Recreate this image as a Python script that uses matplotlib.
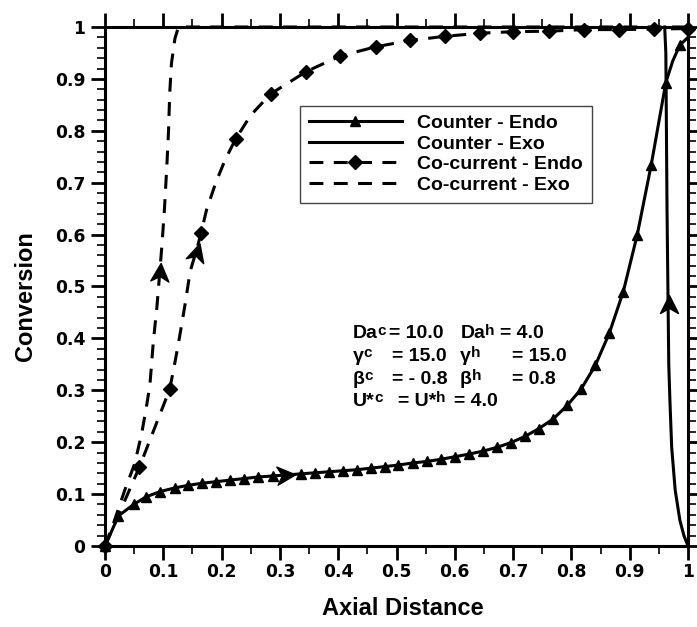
import matplotlib
matplotlib.use('Agg')
import matplotlib.pyplot as plt
from matplotlib.path import Path
from matplotlib.markers import MarkerStyle
from matplotlib.transforms import Affine2D, IdentityTransform
from matplotlib.ticker import MultipleLocator, FuncFormatter

plt.rcParams['lines.scale_dashes'] = False

# Counter - Endo (solid, triangles)
ce_x = [0, 0.023, 0.049, 0.071, 0.095, 0.120, 0.143, 0.167, 0.191, 0.215, 0.239, 0.263,
        0.288, 0.312, 0.336, 0.360, 0.384, 0.408, 0.432, 0.456, 0.480, 0.503, 0.528, 0.552,
        0.576, 0.600, 0.624, 0.649, 0.672, 0.696, 0.720, 0.744, 0.769, 0.793, 0.817, 0.841,
        0.865, 0.889, 0.913, 0.937, 0.962, 0.974, 0.986, 1.0]
ce_y = [0, 0.058, 0.080, 0.095, 0.105, 0.112, 0.117, 0.121, 0.124, 0.127, 0.130, 0.133,
        0.135, 0.137, 0.139, 0.141, 0.143, 0.145, 0.147, 0.150, 0.153, 0.156, 0.160, 0.163,
        0.167, 0.172, 0.177, 0.183, 0.190, 0.199, 0.211, 0.226, 0.245, 0.271, 0.303, 0.348,
        0.410, 0.490, 0.600, 0.735, 0.893, 0.935, 0.965, 0.980]
ce_marks = [i for i in range(len(ce_x)) if i not in (13, 41, 43)]

# Counter - Exo (solid)
cx_x = [1.0, 0.993, 0.986, 0.978, 0.972, 0.969, 0.967, 0.966, 0.965, 0.964, 0.963, 0.962, 0.960]
cx_y = [0, 0.02, 0.05, 0.108, 0.19, 0.28, 0.35, 0.45, 0.55, 0.65, 0.80, 0.95, 1.0]

# Co-current - Endo (dashed, diamonds)
de_x = [0, 0.059, 0.111, 0.121, 0.129, 0.138, 0.146, 0.157, 0.165, 0.174, 0.190, 0.206,
        0.224, 0.250, 0.284, 0.345, 0.403, 0.465, 0.523, 0.583, 0.643, 0.700, 0.762, 0.822,
        0.882, 0.941, 1.0]
de_y = [0, 0.152, 0.302, 0.36, 0.41, 0.47, 0.529, 0.57, 0.604, 0.647, 0.70, 0.744,
        0.784, 0.83, 0.871, 0.914, 0.944, 0.962, 0.974, 0.982, 0.988, 0.991, 0.992, 0.995,
        0.995, 0.996, 0.997]
de_marks = [0, 1, 2, 8, 12] + list(range(14, len(de_x)))

# Co-current - Exo (dashed)
dx_x = [0, 0.015, 0.034, 0.051, 0.063, 0.071, 0.077, 0.083, 0.089, 0.094, 0.098, 0.102,
        0.106, 0.109, 0.111, 0.114, 0.120, 0.126, 1.0]
dx_y = [0, 0.045, 0.108, 0.159, 0.217, 0.268, 0.310, 0.395, 0.460, 0.528, 0.585, 0.650,
        0.731, 0.800, 0.872, 0.930, 0.978, 1.0, 1.0]

# flow direction arrows (x, y, angle in degrees)
arr_x = [0.310, 0.967, 0.094, 0.157]
arr_y = [0.137, 0.466, 0.528, 0.567]
arr_ang = [4, 90, 86, 74]

fig = plt.figure(figsize=(6.97, 6.27), dpi=100, facecolor='white')
ax = fig.add_axes([105/697, 81/627, 583/697, 519/627])

lw = 2.2
dash = (10, 7.5)
ax.plot(ce_x, ce_y, color='black', lw=lw, marker='^', ms=7.5, markevery=ce_marks,
        label='Counter - Endo', clip_on=False, zorder=3)
ax.plot(cx_x, cx_y, color='black', lw=lw, label='Counter - Exo', clip_on=False, zorder=3)
ax.plot(de_x, de_y, color='black', lw=lw, dashes=dash, marker='D', ms=6.8,
        markevery=de_marks, label='Co-current - Endo', clip_on=False, zorder=3)
ax.plot(dx_x, dx_y, color='black', lw=lw, dashes=dash, label='Co-current - Exo',
        clip_on=False, zorder=3)

# barbed arrow heads
head = Path([(0.5, 0), (-0.5, 0.5), (-0.22, 0), (-0.5, -0.5), (0.5, 0)],
            [Path.MOVETO, Path.LINETO, Path.LINETO, Path.LINETO, Path.CLOSEPOLY])
for x, y, a in zip(arr_x, arr_y, arr_ang):
    ax.plot([x], [y], linestyle='none', color='black', ms=13,
            marker=MarkerStyle(head, transform=Affine2D().rotate_deg(a)), zorder=4)

ax.set_xlim(0, 1)
ax.set_ylim(0, 1)
for s in ax.spines.values():
    s.set_linewidth(2.2)
ax.xaxis.set_major_locator(MultipleLocator(0.1))
ax.xaxis.set_minor_locator(MultipleLocator(0.05))
ax.yaxis.set_major_locator(MultipleLocator(0.1))
ax.yaxis.set_minor_locator(MultipleLocator(0.02))
fmt = FuncFormatter(lambda v, p: f'{round(v, 2):g}')
ax.xaxis.set_major_formatter(fmt)
ax.yaxis.set_major_formatter(fmt)
ax.tick_params(which='both', direction='out', top=True, right=True)
ax.tick_params(which='major', length=10, width=2.0)
ax.tick_params(which='minor', length=5.8, width=1.2)
ax.tick_params(axis='x', which='major', pad=2.4)
ax.tick_params(axis='y', which='major', pad=4.3)
for lab in ax.get_xticklabels() + ax.get_yticklabels():
    lab.set_fontfamily('DejaVu Sans')
    lab.set_fontweight('bold')
    lab.set_fontsize(12.3)

ax.set_xlabel('Axial Distance', family='Liberation Sans', fontweight='bold', fontsize=17,
              va='baseline')
ax.xaxis.set_label_coords(0.510, -0.133)
ax.set_ylabel('Conversion', family='Liberation Sans', fontweight='bold', fontsize=17,
              va='baseline')
ax.yaxis.set_label_coords(-0.125, 0.481)

leg = ax.legend(loc='upper left', bbox_to_anchor=(0.3345, 0.848), borderaxespad=0,
                prop={'family': 'Liberation Sans', 'weight': 'bold', 'size': 14},
                frameon=True, fancybox=False, edgecolor='#444444', framealpha=1,
                handlelength=4.8, handletextpad=0.77, labelspacing=0.15, borderpad=0.45,
                numpoints=1)
leg.get_frame().set_linewidth(1.0)

# parameter block: (x, text, superscript)
rows = [
    (0.400, [(0.425, 'Da', 'c'), (0.487, '= 10.0', ''), (0.610, 'Da', 'h'),
             (0.678, '= 4.0', '')]),
    (0.357, [(0.425, 'γ', 'c'), (0.492, '= 15.0', ''), (0.609, 'γ', 'h'),
             (0.698, '= 15.0', '')]),
    (0.313, [(0.425, 'β', 'c'), (0.492, '= - 0.8', ''), (0.609, 'β', 'h'),
             (0.698, '= 0.8', '')]),
    (0.270, [(0.425, 'U*', 'c'), (0.503, '= U*', 'h'), (0.599, '= 4.0', '')]),
]
tkw = dict(family='Liberation Sans', fontweight='bold', va='baseline', ha='left', zorder=5)
renderer = fig.canvas.get_renderer()
for y, cells in rows:
    for x, s, sup in cells:
        t = ax.text(x, y, s, fontsize=14, **tkw)
        if sup:
            bb = t.get_window_extent(renderer)
            px, py = ax.transData.transform((x, y))
            ax.text(bb.x1 - 0.5, py + 3.5, sup, fontsize=11,
                    transform=IdentityTransform(), **tkw)

fig.savefig('out.png', dpi=100, facecolor='white')
